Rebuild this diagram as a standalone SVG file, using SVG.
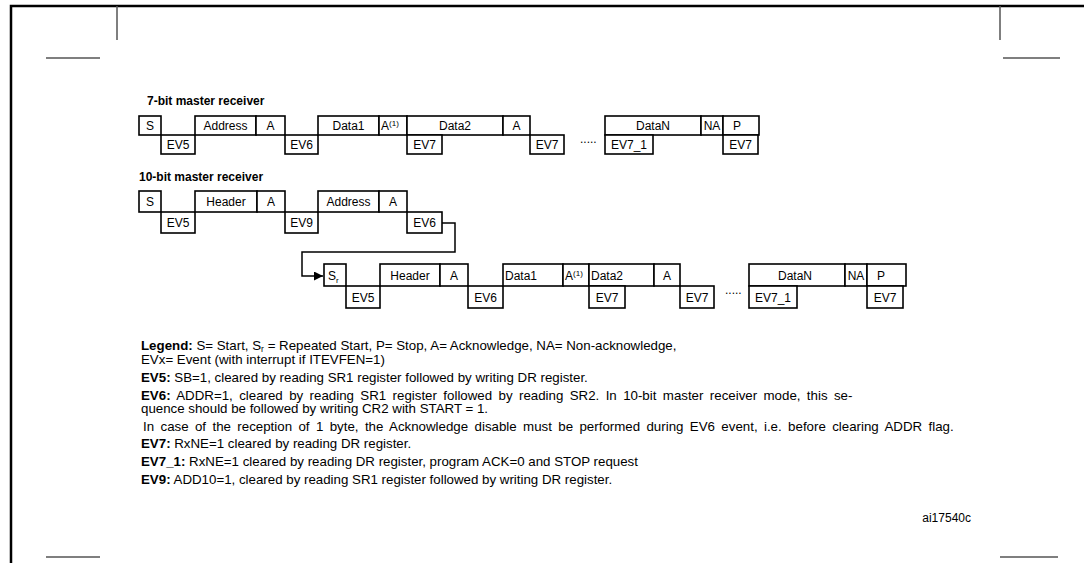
<svg xmlns="http://www.w3.org/2000/svg" width="1084" height="563" viewBox="0 0 1084 563">
<style>
.b{fill:#fff;stroke:#000;stroke-width:1.6}
.t{font-family:"Liberation Sans",Arial,sans-serif;font-size:12px;fill:#000}
.c{text-anchor:middle}
.h{font-family:"Liberation Sans",Arial,sans-serif;font-size:12px;font-weight:bold;fill:#000}
.l{font-family:"Liberation Sans",Arial,sans-serif;font-size:13.3px;fill:#000}
.fr{stroke:#000;stroke-width:2.5;fill:none}
.th{stroke:#555;stroke-width:1.5;fill:none}
.cn{stroke:#000;stroke-width:1.5;fill:none}
</style>
<defs>
<marker id="ar" viewBox="0 0 10 10" refX="10" refY="5" markerWidth="9" markerHeight="9" markerUnits="userSpaceOnUse" orient="auto"><path d="M0,0 L10,5 L0,10 z" fill="#000"/></marker>
</defs>
<rect width="1084" height="563" fill="#fff"/>
<g id="frame">
<path class="fr" d="M11,563 V6 H1084"/>
<path class="th" d="M117,6 V40 M1000,6 V40 M46,58 H100 M1003,58 H1060 M46,557 H100 M1000,557 H1058"/>
</g>
<text class="h" x="147" y="105">7-bit master receiver</text>
<text class="h" x="139" y="181">10-bit master receiver</text>
<g id="row1">
<g id="r1-s"><rect class="b" x="139" y="116" width="22" height="19"/><text class="t c" x="150" y="130">S</text></g>
<g id="r1-ev5"><rect class="b" x="161" y="135" width="34" height="19"/><text class="t c" x="178" y="149">EV5</text></g>
<g id="r1-addr"><rect class="b" x="195" y="116" width="61" height="19"/><text class="t c" x="225.5" y="130">Address</text></g>
<g id="r1-a1"><rect class="b" x="256" y="116" width="29" height="19"/><text class="t c" x="270.5" y="130">A</text></g>
<g id="r1-ev6"><rect class="b" x="285" y="135" width="33" height="19"/><text class="t c" x="301.5" y="149">EV6</text></g>
<g id="r1-data1"><rect class="b" x="318" y="116" width="61" height="19"/><text class="t c" x="348.5" y="130">Data1</text></g>
<g id="r1-a2"><rect class="b" x="379" y="116" width="28" height="19"/><text class="t" x="381" y="130">A<tspan font-size="8" dy="-4">(1)</tspan></text></g>
<g id="r1-data2"><rect class="b" x="407" y="116" width="96" height="19"/><text class="t c" x="455" y="130">Data2</text></g>
<g id="r1-ev7a"><rect class="b" x="407" y="135" width="35" height="19"/><text class="t c" x="424.5" y="149">EV7</text></g>
<g id="r1-a3"><rect class="b" x="503" y="116" width="27" height="19"/><text class="t c" x="516.5" y="130">A</text></g>
<g id="r1-ev7b"><rect class="b" x="530" y="135" width="34" height="19"/><text class="t c" x="547" y="149">EV7</text></g>
<text class="t" x="580" y="143" font-size="8">.....</text>
<g id="r1-datan"><rect class="b" x="605" y="116" width="96" height="19"/><text class="t c" x="653" y="130">DataN</text></g>
<g id="r1-na"><rect class="b" x="701" y="116" width="22" height="19"/><text class="t c" x="712" y="130">NA</text></g>
<g id="r1-p"><rect class="b" x="723" y="116" width="36" height="19"/><text class="t c" x="737" y="130">P</text></g>
<g id="r1-ev71"><rect class="b" x="605" y="135" width="48" height="19"/><text class="t c" x="629" y="149">EV7_1</text></g>
<g id="r1-ev7c"><rect class="b" x="723" y="135" width="35" height="19"/><text class="t c" x="740.5" y="149">EV7</text></g>
</g>
<g id="row2">
<g id="r2-s"><rect class="b" x="139" y="191" width="22" height="21"/><text class="t c" x="150" y="206">S</text></g>
<g id="r2-ev5"><rect class="b" x="161" y="212" width="34" height="21"/><text class="t c" x="178" y="227">EV5</text></g>
<g id="r2-hdr"><rect class="b" x="195" y="191" width="62" height="21"/><text class="t c" x="226" y="206">Header</text></g>
<g id="r2-a1"><rect class="b" x="257" y="191" width="28" height="21"/><text class="t c" x="271" y="206">A</text></g>
<g id="r2-ev9"><rect class="b" x="285" y="212" width="33" height="21"/><text class="t c" x="301.5" y="227">EV9</text></g>
<g id="r2-addr"><rect class="b" x="318" y="191" width="61" height="21"/><text class="t c" x="348.5" y="206">Address</text></g>
<g id="r2-a2"><rect class="b" x="379" y="191" width="28" height="21"/><text class="t c" x="393" y="206">A</text></g>
<g id="r2-ev6"><rect class="b" x="407" y="212" width="35" height="21"/><text class="t c" x="424.5" y="227">EV6</text></g>
</g>
<g id="connectors">
<path class="cn" d="M442,223 H455 V252 H302 V276 H323" marker-end="url(#ar)"/>
</g>
<g id="row3">
<g id="r3-sr"><rect class="b" x="324" y="264" width="22" height="22"/><text class="t" x="328" y="280">S<tspan font-size="8" dy="3">r</tspan></text></g>
<g id="r3-ev5"><rect class="b" x="346" y="286" width="34" height="22"/><text class="t c" x="363" y="302">EV5</text></g>
<g id="r3-hdr"><rect class="b" x="380" y="264" width="60" height="22"/><text class="t c" x="410" y="280">Header</text></g>
<g id="r3-a1"><rect class="b" x="440" y="264" width="28" height="22"/><text class="t c" x="454" y="280">A</text></g>
<g id="r3-ev6"><rect class="b" x="468" y="286" width="35" height="22"/><text class="t c" x="485.5" y="302">EV6</text></g>
<g id="r3-data1"><rect class="b" x="503" y="264" width="60" height="22"/><text class="t" x="505" y="280">Data1</text></g>
<g id="r3-a2"><rect class="b" x="563" y="264" width="26" height="22"/><text class="t" x="565" y="280">A<tspan font-size="8" dy="-4">(1)</tspan></text></g>
<g id="r3-data2"><rect class="b" x="589" y="264" width="65" height="22"/><text class="t" x="591" y="280">Data2</text></g>
<g id="r3-ev7a"><rect class="b" x="589" y="286" width="36" height="22"/><text class="t c" x="607" y="302">EV7</text></g>
<g id="r3-a3"><rect class="b" x="654" y="264" width="26" height="22"/><text class="t c" x="667" y="280">A</text></g>
<g id="r3-ev7b"><rect class="b" x="680" y="286" width="34" height="22"/><text class="t c" x="697" y="302">EV7</text></g>
<text class="t" x="725" y="294" font-size="8">.....</text>
<g id="r3-datan"><rect class="b" x="749" y="264" width="96" height="22"/><text class="t c" x="795" y="280">DataN</text></g>
<g id="r3-na"><rect class="b" x="845" y="264" width="22" height="22"/><text class="t c" x="856" y="280">NA</text></g>
<g id="r3-p"><rect class="b" x="867" y="264" width="39" height="22"/><text class="t c" x="881" y="280">P</text></g>
<g id="r3-ev71"><rect class="b" x="749" y="286" width="48" height="22"/><text class="t c" x="773" y="302">EV7_1</text></g>
<g id="r3-ev7c"><rect class="b" x="867" y="286" width="36" height="22"/><text class="t c" x="885" y="302">EV7</text></g>
</g>
<g id="legend">
<text class="l" x="141" y="350"><tspan font-weight="bold">Legend:</tspan> S= Start, S<tspan font-size="8.5" dy="2">r</tspan><tspan dy="-2"> = Repeated Start, P= Stop, A= Acknowledge, NA= Non-acknowledge,</tspan></text>
<text class="l" x="141" y="364">EVx= Event (with interrupt if ITEVFEN=1)</text>
<text class="l" x="141" y="382"><tspan font-weight="bold">EV5:</tspan> SB=1, cleared by reading SR1 register followed by writing DR register.</text>
<text class="l" x="141" y="400" word-spacing="2.7"><tspan font-weight="bold">EV6:</tspan> ADDR=1, cleared by reading SR1 register followed by reading SR2. In 10-bit master receiver mode, this se-</text>
<text class="l" x="141" y="413">quence should be followed by writing CR2 with START = 1.</text>
<text class="l" x="143" y="431" word-spacing="2.7">In case of the reception of 1 byte, the Acknowledge disable must be performed during EV6 event, i.e. before clearing ADDR flag.</text>
<text class="l" x="141" y="448"><tspan font-weight="bold">EV7:</tspan> RxNE=1 cleared by reading DR register.</text>
<text class="l" x="141" y="466"><tspan font-weight="bold">EV7_1:</tspan> RxNE=1 cleared by reading DR register, program ACK=0 and STOP request</text>
<text class="l" x="141" y="484"><tspan font-weight="bold">EV9:</tspan> ADD10=1, cleared by reading SR1 register followed by writing DR register.</text>
</g>
<text class="t" x="971" y="522" font-size="11.5" text-anchor="end">ai17540c</text>
</svg>
